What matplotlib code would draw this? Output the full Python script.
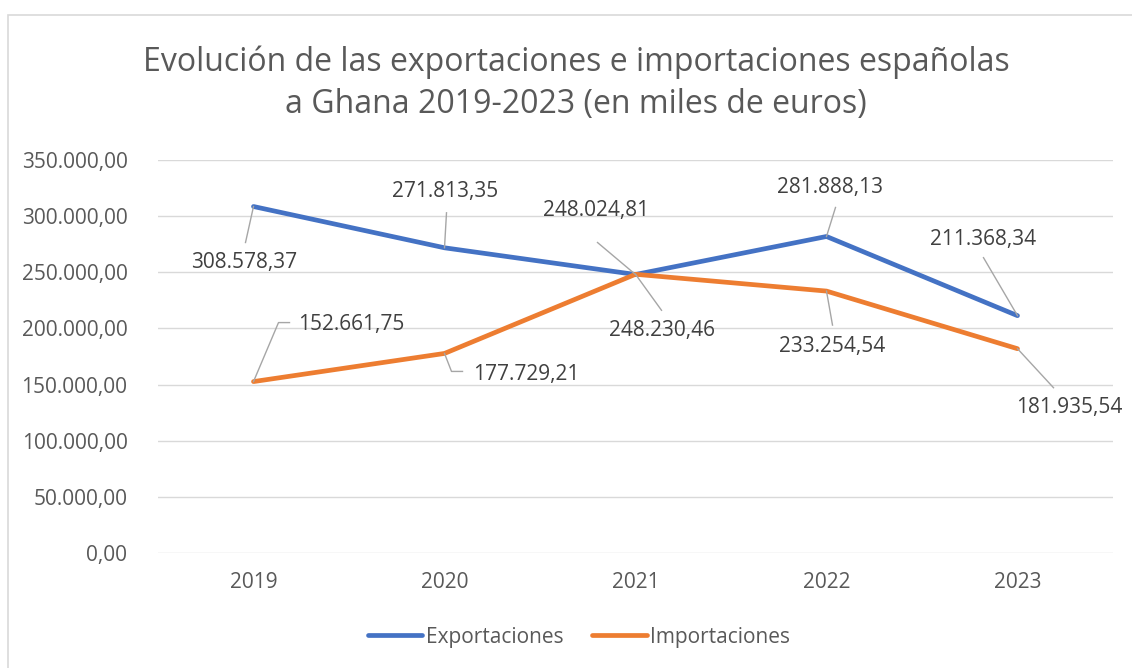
import matplotlib
matplotlib.use("Agg")
import matplotlib.pyplot as plt
from matplotlib.lines import Line2D
from matplotlib.patches import Rectangle
from matplotlib.transforms import IdentityTransform

years = ["2019", "2020", "2021", "2022", "2023"]
exportaciones = [308578.37, 271813.35, 248024.81, 281888.13, 211368.34]
importaciones = [152661.75, 177729.21, 248230.46, 233254.54, 181935.54]
yticks = [0, 50000, 100000, 150000, 200000, 250000, 300000, 350000]

def fmt(v):
    s = f"{v:,.2f}"
    return s.replace(",", "X").replace(".", ",").replace("X", ".")

W, H = 1132, 668
fig = plt.figure(figsize=(W / 100, H / 100), dpi=100)
plt.rcParams['font.family'] = ['Open Sans', 'DejaVu Sans']

BLUE = "#4472C4"
ORANGE = "#ED7D31"
GRID = "#D9D9D9"
TXT = "#595959"
LBL = "#404040"
LEAD = "#A6A6A6"

# frame border
fig.patches.append(Rectangle((8 / W, -0.1), 1.2, 1 - 15 / H + 0.1, transform=fig.transFigure,
                             fill=False, edgecolor=GRID, lw=1.2))

ax = fig.add_axes([158 / W, 115 / H, (1113 - 158) / W, (553 - 160) / H])
x = list(range(len(years)))
ax.set_xlim(-0.5, len(years) - 0.5)
ax.set_ylim(0, 350000)
ax.set_yticks(yticks)
ax.set_yticklabels([fmt(v) for v in yticks], fontsize=15, color=TXT)
ax.set_xticks(x)
ax.set_xticklabels(years, fontsize=15, color=TXT)
ax.tick_params(length=0)
ax.tick_params(axis='y', pad=22)
ax.tick_params(axis='x', pad=14)
for s in ax.spines.values():
    s.set_visible(False)
ax.grid(axis='y', color=GRID, lw=1.0)
ax.set_axisbelow(True)

ax.plot(x, exportaciones, color=BLUE, lw=3.4, solid_capstyle='round', solid_joinstyle='round',
        label="Exportaciones", zorder=3)
ax.plot(x, importaciones, color=ORANGE, lw=3.4, solid_capstyle='round', solid_joinstyle='round',
        label="Importaciones", zorder=3)

fig.text(576 / W, 1 - 62 / H, "Evolución de las exportaciones e importaciones españolas",
         ha='center', va='center', fontsize=23, color=TXT)
fig.text(576 / W, 1 - 104 / H, "a Ghana 2019-2023 (en miles de euros)",
         ha='center', va='center', fontsize=23, color=TXT)

# label offsets in pixels (dx right, dy down) : label center, leader path points
exp_lab = [(-9, 56), (1, -56), (-39, -64), (4, -49), (-34, -76)]
exp_lead = [[(0, 0), (-8, 36)], [(0, 0), (2, -35)], [(0, 0), (-38, -32)],
            [(0, 0), (9, -29)], [(0, 0), (-34, -58)]]
imp_lab = [(98, -57), (82, 21), (26, 56), (6, 55), (52, 59)]
imp_lead = [[(0, 0), (25, -59), (36, -59)], [(0, 0), (7, 18), (18, 18)],
            [(0, 0), (26, 36)], [(0, 0), (6, 34)], [(0, 0), (36, 39)]]

fig.canvas.draw()
def put(vals, labs, leads):
    for xi, v, (ldx, ldy), path in zip(x, vals, labs, leads):
        px, py = ax.transData.transform((xi, v))
        xs = [px + dx for dx, dy in path]
        ys = [py - dy for dx, dy in path]
        fig.add_artist(Line2D(xs, ys, transform=IdentityTransform(), color=LEAD, lw=1.0, zorder=4))
        fig.text(px + ldx, py - ldy, fmt(v), transform=IdentityTransform(),
                 ha='center', va='center', fontsize=15, color=LBL, zorder=5)

put(exportaciones, exp_lab, exp_lead)
put(importaciones, imp_lab, imp_lead)

fig.legend(handles=ax.get_lines(), labels=["Exportaciones", "Importaciones"], ncol=2,
           loc='center', bbox_to_anchor=(579 / W, 1 - 637 / H), frameon=False,
           fontsize=15, labelcolor=TXT, handlelength=2.6, handletextpad=0.15, columnspacing=1.4)

fig.savefig("out.png", dpi=100)
